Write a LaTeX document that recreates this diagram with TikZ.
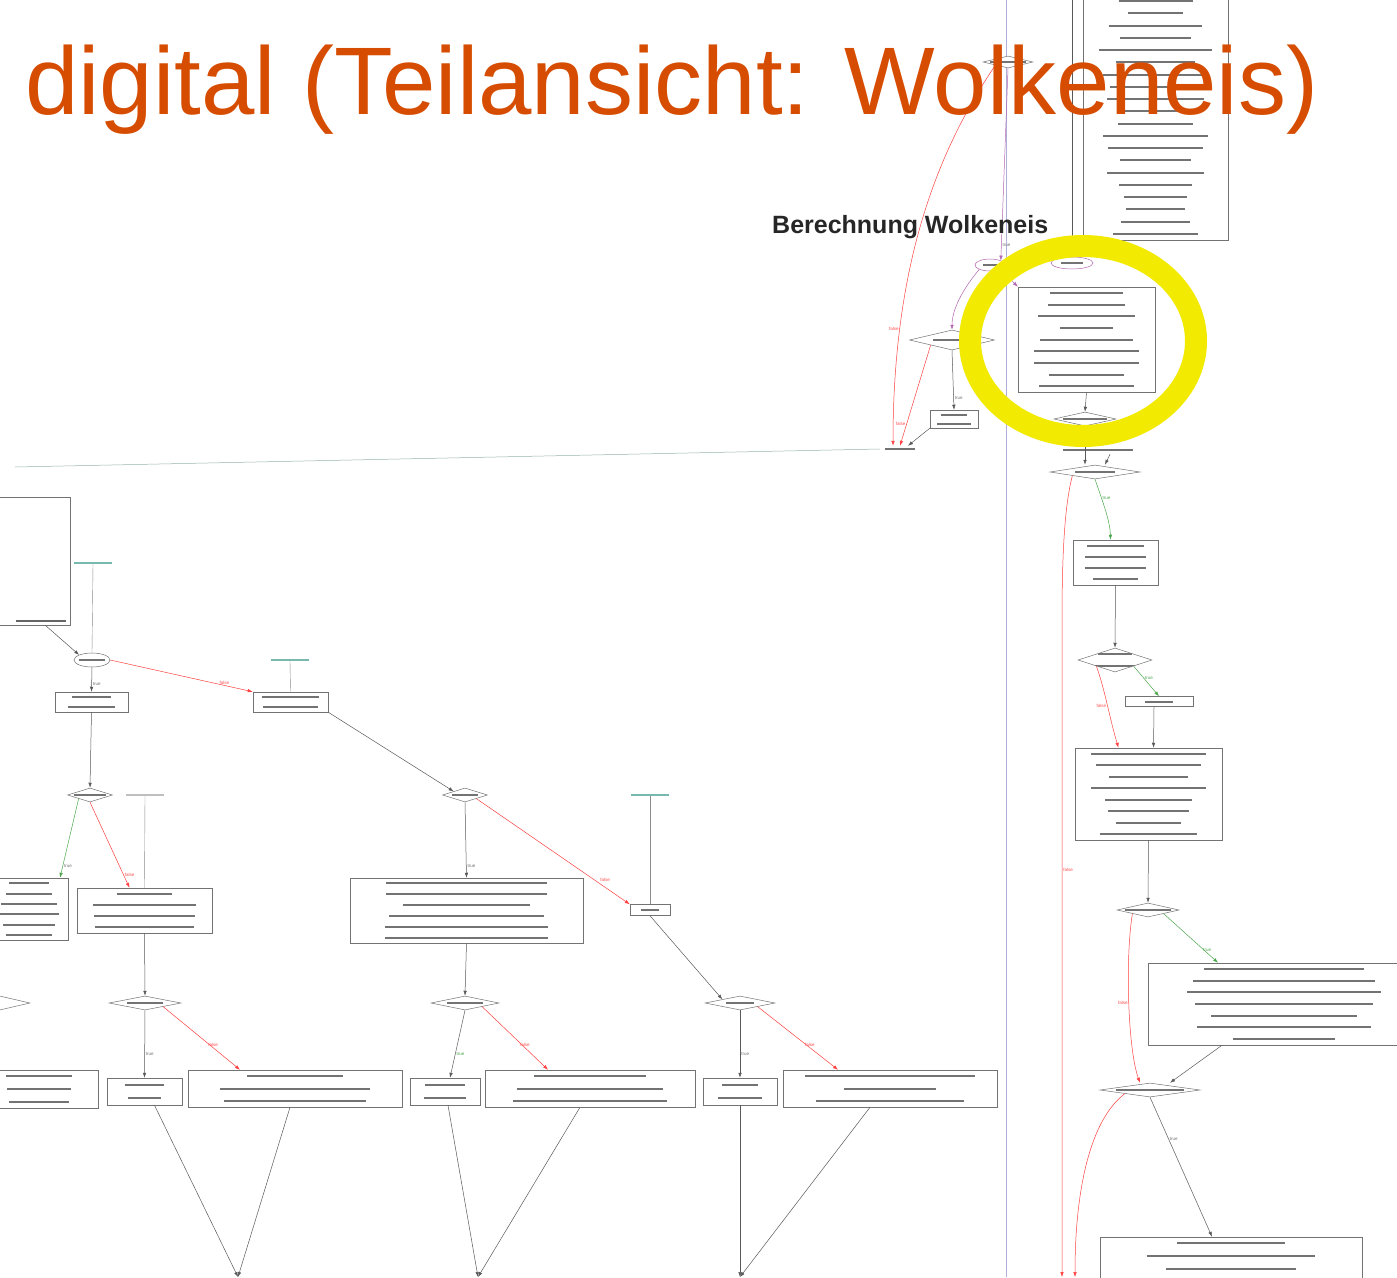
\documentclass[tikz,border=0pt]{standalone}
\usepackage{fontspec}
\setmainfont{Liberation Sans}
\usetikzlibrary{shapes.geometric,arrows.meta,calc}

\definecolor{titleorange}{RGB}{214,76,0}
\definecolor{ringyellow}{RGB}{242,234,0}
\definecolor{lavender}{RGB}{175,175,215}
\definecolor{labelteal}{RGB}{120,185,175}

\tikzset{
  rows/.style={path picture={
    \foreach \i in {1,...,#1}{
      \pgfmathsetmacro{\wa}{0.10+0.22*rnd}
      \coordinate (pa) at ($(path picture bounding box.north west)!{(\i-0.5)/#1}!(path picture bounding box.south west)$);
      \coordinate (pb) at ($(path picture bounding box.north east)!{(\i-0.5)/#1}!(path picture bounding box.south east)$);
      \draw[line width=2pt, black!55] ($(pa)!\wa!(pb)$) -- ($(pa)!{1-\wa}!(pb)$);
    }}},
  elab/.style={font=\fontsize{4.5}{5}\selectfont, inner sep=1pt, text=black!55},
  nolab/.style={elab, text=red!70},
  yeslab/.style={elab, text=green!50!black!70},
}

\begin{document}
\begin{tikzpicture}[x=1pt,y=-1pt,
  fbox/.style={draw=black!55, line width=0.5pt, inner sep=0pt, fill=white},
  fdec/.style={diamond, draw=black!55, line width=0.5pt, inner sep=0pt, fill=white},
  fell/.style={ellipse, draw=black!55, line width=0.5pt, inner sep=0pt, fill=white},
  tlab/.style={fill=labelteal, inner sep=0pt, minimum width=38, minimum height=1.6},
  flow/.style={draw=black!65, line width=0.5pt, -{Latex[length=5pt,width=3.5pt]}},
  yesflow/.style={flow, draw=green!50!black!70},
  noflow/.style={flow, draw=red!75},
  purpflow/.style={flow, draw=violet!60},
  plain/.style={draw=black!45, line width=0.4pt},
  ]
  \pgfmathsetseed{11}
  \useasboundingbox (0,0) rectangle (1397,1277);
  \fill[white] (0,0) rectangle (1397,1277);

  % long vertical lines
  \coordinate (vtop) at (1006,0);
  \coordinate (vbot) at (1006,1277);
  \draw[lavender, line width=0.8pt] (vtop) -- (vbot);
  \coordinate (ctop) at (1072,0);

  % upper part
  \node[fbox, minimum width=145, minimum height=245, rows=20] (params) at (1155.5,117.5) {};
  \node[fdec, minimum width=50, minimum height=12, rows=1] (loop) at (1008,62) {};
  \node[fell, draw=violet!60, minimum width=30, minimum height=12, rows=1] (entl) at (990,265) {};
  \node[fell, draw=violet!60, minimum width=42, minimum height=12, rows=1] (entr) at (1072,263) {};
  \node[fbox, minimum width=137, minimum height=105, rows=9] (wolkeneis) at (1086.5,339.5) {};
  \node[fdec, minimum width=85, minimum height=20, rows=1] (chkA) at (952,340) {};
  \node[fbox, minimum width=48, minimum height=18, rows=2] (setA) at (954,419) {};
  \node[inner sep=0pt, minimum width=40, minimum height=6, rows=1] (merge) at (900,449) {};
  \coordinate (lft) at (15,467);

  \draw[noflow] (loop.south west) .. controls (945,140) and (893,250) .. node[nolab, pos=0.78, left] {false} ([xshift=-7pt]merge.north);
  \draw[purpflow] (loop.south) -- node[elab, right, pos=0.92] {true} (entl.north east);
  \draw[flow] (ctop) -- (entr.north);
  \draw[purpflow] (entl.south east) -- (wolkeneis.north west);
  \draw[purpflow] (entl.south west) .. controls (962,290) and (952,310) .. (chkA.north);
  \draw[flow] (chkA.south) -- node[elab, right, pos=0.8] {true} (setA.north);
  \draw[noflow] (chkA.south west) -- node[nolab, left, pos=0.78] {false} (merge.north);
  \draw[flow] (setA.south west) -- ([xshift=8pt]merge.north);
  \draw[labelteal!70!black!60, line width=0.5pt] (merge.west) -- (lft);

  % left part
  \node[fbox, minimum width=100, minimum height=128] (init) at (20,561) {};
  \draw[line width=2pt, black!60] (16,621) -- (66,621);
  \node[tlab] (le2) at (93,563) {};
  \node[fell, minimum width=36, minimum height=14, rows=1] (chkB) at (92,660) {};
  \node[fbox, minimum width=73, minimum height=20, rows=2] (setB) at (91.5,702) {};
  \node[fbox, minimum width=75, minimum height=20, rows=2] (setC) at (290.5,702) {};
  \node[tlab] (lb4) at (290,660) {};

  \draw[flow] ([xshift=-25pt]init.south east) -- (chkB.north west);
  \draw[plain] (le2.south) -- (chkB.north);
  \draw[flow] (chkB.south) -- node[elab, right, pos=0.7] {true} (setB.north);
  \draw[noflow] (chkB.east) -- node[nolab, above, pos=0.8] {false} (setC.north west);
  \draw[plain] (lb4.south) -- (setC.north);

  \node[fdec, minimum width=45, minimum height=14, rows=1] (chkC) at (90,795) {};
  \node[tlab, fill=black!25] (ld3) at (145,795) {};
  \node[fbox, minimum width=78, minimum height=62, rows=6] (calcA) at (29,909) {};
  \node[fbox, minimum width=135, minimum height=45, rows=4] (calcB) at (144.5,910.5) {};
  \node[fdec, minimum width=72, minimum height=14, rows=1] (chkD) at (145,1003) {};
  \node[fdec, minimum width=60, minimum height=14] (chkL) at (0,1003) {};
  \node[fbox, minimum width=118, minimum height=38, rows=3] (outL) at (39,1089) {};
  \node[fbox, minimum width=75, minimum height=27, rows=2] (outA) at (144.5,1091.5) {};
  \node[fbox, minimum width=214, minimum height=37, rows=3] (outB) at (295,1088.5) {};
  \coordinate (endA) at (238,1277);

  \draw[flow] (setB.south) -- (chkC.north);
  \draw[yesflow] (chkC.south west) -- node[elab, right, pos=0.85] {true} ([xshift=31pt]calcA.north);
  \draw[noflow] (chkC.south) -- node[nolab, right, pos=0.85] {false} ([xshift=-15pt]calcB.north);
  \draw[plain] (ld3.south) -- (calcB.north);
  \draw[flow] (calcB.south) -- (chkD.north);
  \draw[flow] (chkD.south) -- node[elab, right, pos=0.65] {true} (outA.north);
  \draw[noflow] (chkD.south east) -- node[nolab, above, pos=0.65] {false} ([xshift=-55pt]outB.north);
  \draw[flow] ([xshift=10pt]outA.south) -- (endA);
  \draw[flow] ([xshift=-5pt]outB.south) -- (endA);

  % middle part
  \node[fdec, minimum width=45, minimum height=14, rows=1] (chkE) at (465,795) {};
  \node[fbox, minimum width=233, minimum height=65, rows=6] (calcC) at (466.5,910.5) {};
  \node[fbox, minimum width=40, minimum height=11, rows=1] (skip) at (650,910) {};
  \node[tlab] (lb11) at (650,795) {};
  \node[fdec, minimum width=68, minimum height=14, rows=1] (chkF) at (465,1003) {};
  \node[fbox, minimum width=70, minimum height=27, rows=2] (outC) at (445,1091.5) {};
  \node[fbox, minimum width=210, minimum height=37, rows=3] (outD) at (590,1088.5) {};
  \node[fdec, minimum width=70, minimum height=14, rows=1] (chkG) at (740,1003) {};
  \node[fbox, minimum width=74, minimum height=27, rows=2] (outE) at (740,1091.5) {};
  \node[fbox, minimum width=214, minimum height=37, rows=3] (outF) at (890,1088.5) {};
  \coordinate (endB) at (478,1277);
  \coordinate (endC) at (740,1277);

  \draw[flow] (setC.south east) -- (chkE.north west);
  \draw[flow] (chkE.south) -- node[elab, right, pos=0.85] {true} (calcC.north);
  \draw[noflow] (chkE.south east) -- node[nolab, above right, pos=0.8] {false} (skip.north west);
  \draw[plain] (lb11.south) -- (skip.north);
  \draw[flow] (calcC.south) -- (chkF.north);
  \draw[flow] (chkF.south) -- node[yeslab, right, pos=0.65] {true} ([xshift=5pt]outC.north);
  \draw[noflow] (chkF.south east) -- node[nolab, above, pos=0.65] {false} ([xshift=-42pt]outD.north);
  \draw[flow] ([xshift=3pt]outC.south) -- (endB);
  \draw[flow] ([xshift=-10pt]outD.south) -- (endB);
  \draw[flow] (skip.south) -- (chkG.north west);
  \draw[flow] (chkG.south) -- node[elab, right, pos=0.65] {true} (outE.north);
  \draw[noflow] (chkG.south east) -- node[nolab, above, pos=0.65] {false} ([xshift=-52pt]outF.north);
  \draw[flow] (outE.south) -- (endC);
  \draw[flow] ([xshift=-20pt]outF.south) -- (endC);

  % right part
  \node[fdec, minimum width=62, minimum height=14, rows=1] (chkH) at (1085,419) {};
  \node[inner sep=0pt, minimum width=90, minimum height=8, rows=1] (lblH) at (1098,450) {};
  \node[fdec, minimum width=90, minimum height=14, rows=1] (chkI) at (1095,472) {};
  \node[fbox, minimum width=85, minimum height=45, rows=4] (calcD) at (1115.5,562.5) {};
  \node[fdec, minimum width=74, minimum height=24, rows=2] (chkJ) at (1115,660) {};
  \node[fbox, minimum width=68, minimum height=10, rows=1] (setD) at (1159,701.5) {};
  \node[fbox, minimum width=147, minimum height=92, rows=8] (calcE) at (1148.5,794) {};
  \node[fdec, minimum width=62, minimum height=14, rows=1] (chkK) at (1148,910) {};
  \node[fbox, minimum width=272, minimum height=82, rows=7] (calcF) at (1284,1004) {};
  \node[fdec, minimum width=100, minimum height=14, rows=1] (chkM) at (1150,1090) {};
  \node[fbox, minimum width=262, minimum height=63, rows=5] (calcG) at (1231,1268.5) {};
  \coordinate (endR) at (1062,1277);
  \coordinate (endS) at (1075,1277);

  \draw[flow] (wolkeneis.south) -- (chkH.north);
  \draw[flow] (chkH.south) -- ([xshift=-10pt]chkI.north);
  \draw[flow] ([xshift=12pt]lblH.south) -- ([xshift=10pt]chkI.north);
  \draw[yesflow] (chkI.south) .. controls (1102,500) and (1110,520) .. node[yeslab, right, pos=0.3] {true} ([xshift=-5pt]calcD.north);
  \draw[noflow] (chkI.south west) .. controls (1066,500) and (1062,540) .. (1062,620) -- node[nolab, right, pos=0.38] {false} (endR);
  \draw[flow] (calcD.south) -- (chkJ.north);
  \draw[yesflow] (chkJ.south east) -- node[yeslab, right, pos=0.4] {true} (setD.north);
  \draw[noflow] (chkJ.south west) .. controls (1105,690) and (1110,720) .. node[nolab, left, pos=0.5] {false} ([xshift=-30pt]calcE.north);
  \draw[flow] ([xshift=-5pt]setD.south) -- ([xshift=5pt]calcE.north);
  \draw[flow] (calcE.south) -- (chkK.north);
  \draw[yesflow] (chkK.south east) -- node[yeslab, above, pos=0.8] {true} ([xshift=-66pt]calcF.north);
  \draw[noflow] (chkK.south west) .. controls (1125,960) and (1128,1050) .. node[nolab, left, pos=0.5] {false} ([xshift=-10pt]chkM.north);
  \draw[flow] ([xshift=-62pt]calcF.south) -- ([xshift=20pt]chkM.north);
  \draw[flow] (chkM.south) -- node[elab, right, pos=0.3] {true} ([xshift=-19pt]calcG.north);
  \draw[noflow] (chkM.south west) .. controls (1090,1120) and (1075,1190) .. (endS);

  % highlight and headings
  \draw[ringyellow, line width=22pt] (1083,341) ellipse [x radius=113, y radius=95];
  \node[anchor=base west, inner sep=0pt, font=\bfseries\fontsize{25}{26}\selectfont, text=black!85] (subtitle) at (772,233) {Berechnung Wolkeneis};
  \node[anchor=base west, inner sep=0pt, font=\fontsize{96}{100}\selectfont, text=titleorange] (title) at (25,114) {digital (Teilansicht: Wolkeneis)};
\end{tikzpicture}
\end{document}
